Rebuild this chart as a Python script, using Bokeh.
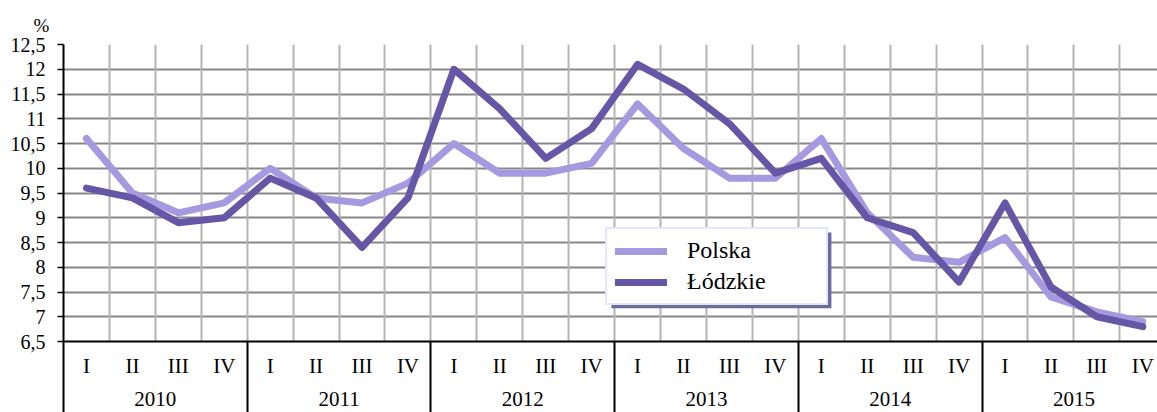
from bokeh.plotting import figure
from bokeh.models import (Range1d, FixedTicker, Grid, LinearAxis, Title,
                          Legend, LegendItem, BoxAnnotation)
from bokeh.embed import file_html
from bokeh.resources import INLINE

# ---- data ----
years = ["2010", "2011", "2012", "2013", "2014", "2015"]
quarters = ["I", "II", "III", "IV"]
polska = [10.6, 9.5, 9.1, 9.3, 10.0, 9.4, 9.3, 9.7, 10.5, 9.9, 9.9, 10.1,
          11.3, 10.4, 9.8, 9.8, 10.6, 9.1, 8.2, 8.1, 8.6, 7.4, 7.1, 6.9]
lodzkie = [9.6, 9.4, 8.9, 9.0, 9.8, 9.4, 8.4, 9.4, 12.0, 11.2, 10.2, 10.8,
           12.1, 11.6, 10.9, 9.9, 10.2, 9.0, 8.7, 7.7, 9.3, 7.6, 7.0, 6.8]
y_ticks = [6.5, 7, 7.5, 8, 8.5, 9, 9.5, 10, 10.5, 11, 11.5, 12, 12.5]
y_tick_labels = ["6,5", "7", "7,5", "8", "8,5", "9", "9,5", "10", "10,5",
                 "11", "11,5", "12", "12,5"]
series_names = ["Polska", "Łódzkie"]
unit = "%"

# ---- derived ----
nq = len(quarters)
n = len(years) * nq
xs = [i + 0.5 for i in range(n)]
q_labels = quarters * len(years)
year_centers = [k * nq + nq / 2 for k in range(len(years))]
year_bounds = [k * nq for k in range(len(years) + 1)]

FONT = "Liberation Serif"
C_POL = "#a59ae0"
C_LOD = "#6657a6"

SEP_LEN = 75  # length of year separators below the plot area

p = figure(width=1157, height=412, output_backend="svg", toolbar_location=None,
           x_range=Range1d(0, 23.82), y_range=Range1d(6.5, 12.5),
           x_axis_type=None,
           min_border_left=63, min_border_right=0, min_border_top=44,
           min_border_bottom=71)
p.outline_line_color = None
p.background_fill_color = "white"
p.border_fill_color = "white"

# unit label as a left-shifted title
p.add_layout(Title(text=unit, align="left", offset=-30, standoff=17,
                   text_font=FONT, text_font_size="19px",
                   text_font_style="normal", text_color="black"), "above")

# y axis
p.yaxis.ticker = FixedTicker(ticks=y_ticks)
p.yaxis.major_label_overrides = {t: l for t, l in zip(y_ticks, y_tick_labels)}
p.yaxis.axis_line_color = "black"
p.yaxis.axis_line_width = 2
p.yaxis.major_tick_out = 6
p.yaxis.major_tick_in = 0
p.yaxis.major_tick_line_color = "black"
p.yaxis.major_tick_line_width = 1.5
p.yaxis.minor_tick_line_color = None
p.yaxis.major_label_text_font = FONT
p.yaxis.major_label_text_font_size = "20px"
p.yaxis.major_label_text_color = "black"
p.yaxis.major_label_standoff = 12

# grids
p.ygrid.ticker = FixedTicker(ticks=y_ticks)
p.ygrid.grid_line_color = "#878787"
p.ygrid.grid_line_width = 2
p.add_layout(Grid(dimension=0, ticker=FixedTicker(ticks=list(range(1, n))),
                  grid_line_color="#b4b4b4", grid_line_width=2))

# x axis: quarters + year separators (as long minor ticks)
ax_q = LinearAxis(ticker=FixedTicker(ticks=xs, minor_ticks=year_bounds),
                  major_label_overrides={x: q for x, q in zip(xs, q_labels)},
                  axis_line_color="black", axis_line_width=2,
                  major_tick_line_color=None, major_tick_out=0, major_tick_in=0,
                  minor_tick_line_color="black", minor_tick_line_width=2,
                  minor_tick_out=SEP_LEN, minor_tick_in=0,
                  major_label_standoff=12 - SEP_LEN,
                  major_label_text_font=FONT, major_label_text_font_size="21px",
                  major_label_text_color="black")
p.add_layout(ax_q, "below")

ax_y = LinearAxis(ticker=FixedTicker(ticks=year_centers, minor_ticks=[]),
                  major_label_overrides={x: y for x, y in zip(year_centers, years)},
                  axis_line_color=None,
                  major_tick_line_color=None, major_tick_out=0, major_tick_in=0,
                  minor_tick_line_color=None,
                  major_label_standoff=11,
                  major_label_text_font=FONT, major_label_text_font_size="21px",
                  major_label_text_color="black")
p.add_layout(ax_y, "below")

# lines
r_pol = p.line(xs, polska, line_color=C_POL, line_width=7,
               line_join="round", line_cap="round")
r_lod = p.line(xs, lodzkie, line_color=C_LOD, line_width=7,
               line_join="round", line_cap="round")

# legend shadow
p.add_layout(BoxAnnotation(left=11.93, right=16.72, top=8.70, bottom=7.17,
                           fill_color="#6b6b9e", fill_alpha=1.0,
                           line_color=None))

legend = Legend(items=[LegendItem(label=series_names[0], renderers=[r_pol]),
                       LegendItem(label=series_names[1], renderers=[r_lod])],
                location=(542, 36), orientation="vertical",
                padding=8, spacing=4, margin=0,
                glyph_width=52, glyph_height=20, label_standoff=20,
                label_width=131,
                label_text_font=FONT, label_text_font_size="24px",
                label_text_color="black",
                border_line_color="#ccccff", border_line_width=2,
                background_fill_color="white", background_fill_alpha=1.0)
p.add_layout(legend)

open("out.html", "w").write(file_html(p, INLINE))
